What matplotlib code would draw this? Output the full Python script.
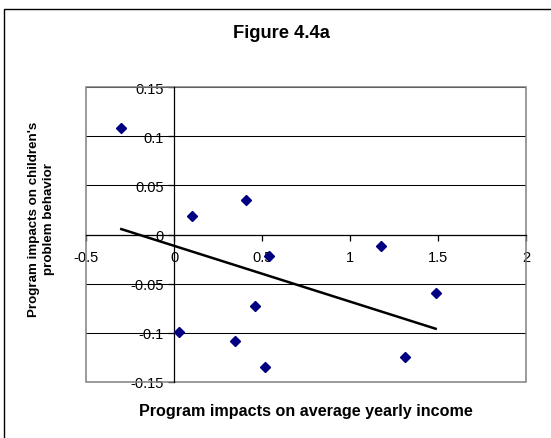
import numpy as np
import matplotlib
matplotlib.use("Agg")
import matplotlib.pyplot as plt
from matplotlib.patches import Rectangle

plt.rcParams['font.family'] = ['Liberation Sans', 'DejaVu Sans']

# program impacts, one point per site
income_impact = [-0.302, 0.025, 0.098, 0.344, 0.410, 0.457, 0.514, 0.538, 1.174, 1.312, 1.486]
behavior_impact = [0.108, -0.099, 0.019, -0.108, 0.035, -0.073, -0.135, -0.022, -0.012, -0.125, -0.059]

x_ticks = [-0.5, 0, 0.5, 1, 1.5, 2]
x_tick_labels = ['-0.5', '0', '0.5', '1', '1.5', '2']
y_ticks = [-0.15, -0.1, -0.05, 0, 0.05, 0.1, 0.15]
y_tick_labels = ['-0.15', '-0.1', '-0.05', '0', '0.05', '0.1', '0.15']

W, H = 551, 439
fig = plt.figure(figsize=(W / 100, H / 100), dpi=100)

# outer chart border (runs off the right/bottom edge like the original)
fig.add_artist(Rectangle((4 / W, -0.2), 2, (H - 10) / H + 0.2, transform=fig.transFigure,
                         fill=False, ec='black', lw=1.0))

ax = fig.add_axes([86.5 / W, (H - 383) / H, (526 - 86.5) / W, (383 - 88) / H])
ax.set_xlim(-0.5, 2)
ax.set_ylim(-0.15, 0.15)

# horizontal gridlines
for y in y_ticks:
    ax.axhline(y, color='black', lw=0.75, zorder=1)

# axes cross at zero, Excel style
for side in ['top', 'right']:
    ax.spines[side].set_visible(False)
ax.spines['left'].set_position(('data', 0))
ax.spines['bottom'].set_position(('data', 0))
ax.spines['left'].set_linewidth(0.9)
ax.spines['bottom'].set_linewidth(0.9)
ax.add_patch(Rectangle((0, 0), 1, 1, transform=ax.transAxes, fill=False,
                       ec='#808080', lw=1.1, zorder=2, clip_on=False))

ax.set_xticks(x_ticks)
ax.set_xticklabels(x_tick_labels)
ax.set_yticks(y_ticks)
ax.set_yticklabels(y_tick_labels)
ax.tick_params(axis='x', direction='out', length=4, width=0.9, pad=7.5, labelsize=10.5)
ax.tick_params(axis='y', direction='out', length=4, width=0.9, pad=3.5, labelsize=10.5)

ax.plot(income_impact, behavior_impact, linestyle='none', marker='D', markersize=5.5,
        color='#000080', zorder=4, clip_on=False)

# linear trendline over the data range
slope, intercept = np.polyfit(income_impact, behavior_impact, 1)
xs = np.array([min(income_impact), max(income_impact)])
ax.plot(xs, slope * xs + intercept, color='black', lw=1.8, zorder=3)

fig.text(281 / W, 1 - 34 / H, 'Figure 4.4a', ha='center', va='center',
         fontsize=13.2, fontweight='bold')
fig.text(306 / W, 1 - 412 / H, 'Program impacts on average yearly income', ha='center',
         va='center', fontsize=11.6, fontweight='bold')
fig.text(41.5 / W, 1 - 219 / H, "Program impacts on children's\nproblem behavior", ha='center',
         va='center', rotation=90, fontsize=9.6, fontweight='bold', linespacing=1.35)

fig.savefig('out.png', dpi=100)
